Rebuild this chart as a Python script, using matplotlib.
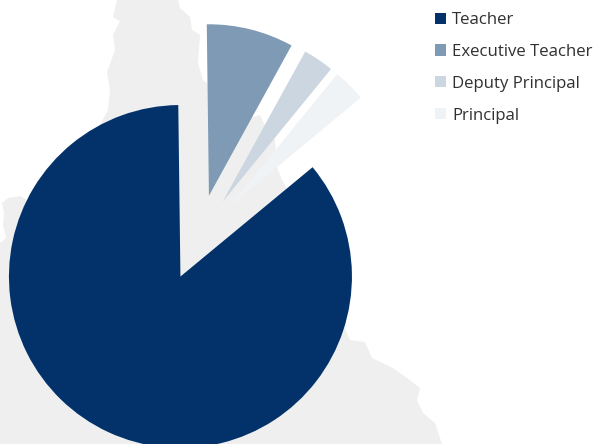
import matplotlib
matplotlib.use('Agg')
import matplotlib.pyplot as plt

# shares
roles = ['Teacher', 'Executive Teacher', 'Deputy Principal', 'Principal']
shares = [85.8, 8.2, 2.9, 3.1]
colours = ['#03326A', '#7F9AB5', '#CBD6E1', '#F0F3F6']

# map silhouette behind the pie, traced in image pixels
map_x = [117, 113, 120, 113, 115, 107, 110, 108, 60, 27, 20, 8, 2, 4, 3, 6, 0, 0,
         442, 435, 423, 417, 420, 407, 393, 372, 365, 350, 347,
         285, 282, 277, 275, 263, 260, 253, 203, 198, 200, 192, 190, 180, 178]
map_y = [0, 17, 21, 35, 50, 72, 90, 110, 200, 200, 196, 198, 203, 212, 225, 238, 243, 444,
         444, 423, 413, 400, 388, 378, 368, 358, 342, 340, 333,
         185, 180, 167, 140, 122, 115, 117, 80, 63, 35, 30, 17, 8, 0]

W, H = 597, 444
fig = plt.figure(figsize=(W / 100, H / 100), dpi=100)

bg = fig.add_axes([0, 0, 1, 1])
bg.fill(map_x, map_y, color='#EFEFEF', lw=0)
bg.set_xlim(0, W)
bg.set_ylim(H, 0)
bg.axis('off')

ax = fig.add_axes([0, 0, 1, 1])
ax.patch.set_alpha(0)
radius_px = 171.5
cx, cy = 198.5, 237.5
wedges, _ = ax.pie(shares, colors=colours, startangle=39.6, counterclock=False,
                   explode=[43 / radius_px] * 4, radius=1,
                   wedgeprops={'linewidth': 0})
ax.set_xlim(-cx / radius_px, (W - cx) / radius_px)
ax.set_ylim(-(H - cy) / radius_px, cy / radius_px)

leg = ax.legend(wedges, roles, loc='upper left', bbox_to_anchor=(420 / W, 1 + 3 / H),
                bbox_transform=fig.transFigure, frameon=False,
                handlelength=0.65, handleheight=0.65, handletextpad=0.35, labelspacing=0.94,
                prop={'family': 'Open Sans', 'size': 12.1})
for t in leg.get_texts():
    t.set_color('#303030')

fig.savefig('out.png', dpi=100)
